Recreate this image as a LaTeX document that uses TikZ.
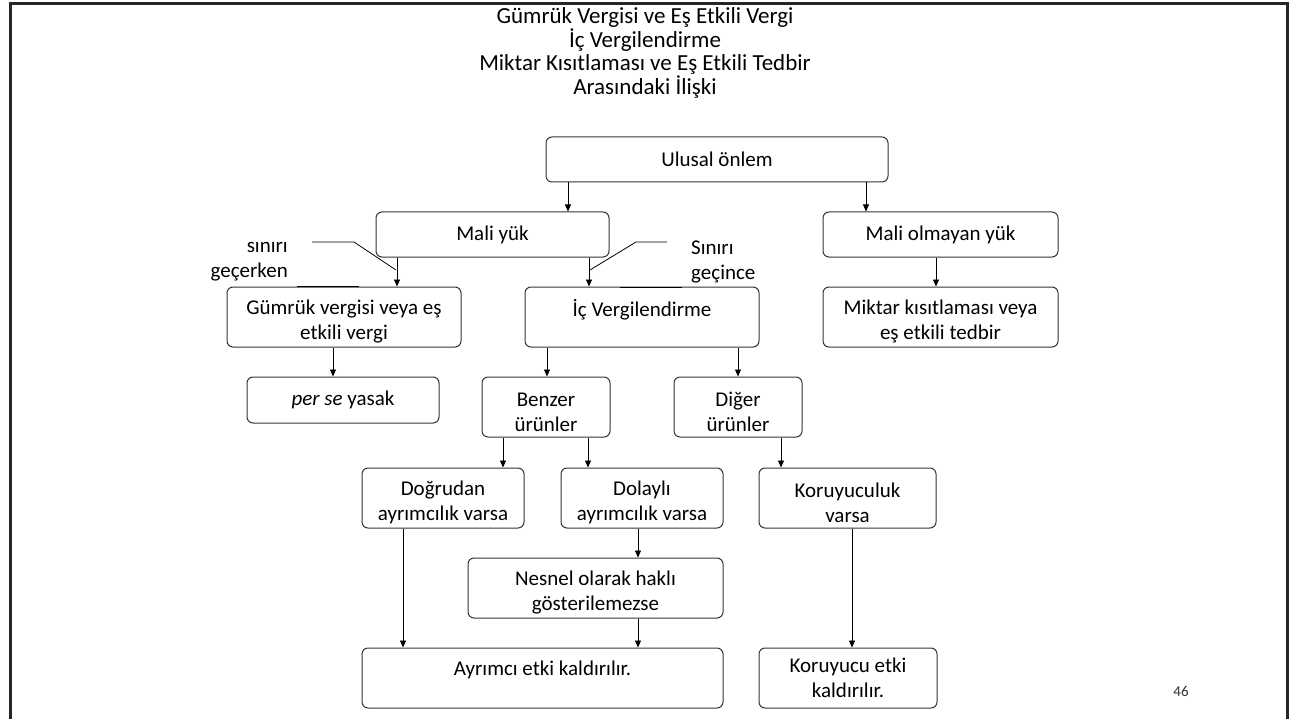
\documentclass[tikz,border=0pt]{standalone}
\usepackage{fontspec}
\setmainfont{Carlito}
\usetikzlibrary{arrows.meta}
\newcommand\liftA{\rule{0pt}{24pt}}
\newcommand\topA{\rule[-19pt]{0pt}{19pt}}
\tikzset{
  box/.style={draw=black!80, line width=1pt, rounded corners=6pt, align=center, inner sep=0pt,
    font=\fontsize{21}{25}\selectfont, text=black},
  arr/.style={draw=black, line width=0.8pt, -{Triangle[length=7pt,width=6pt]}},
  cline/.style={draw=black, line width=0.8pt},
  lbl/.style={inner sep=0pt, font=\fontsize{21}{25}\selectfont}
}
\begin{document}
\begin{tikzpicture}[x=1pt,y=-1pt]
\useasboundingbox (0,0) rectangle (1289,719);
% frame
\draw[line width=3pt, black!85] (10,722) -- (10,4) -- (1287,4) -- (1287,722);
% title
\node[inner sep=0pt, align=center, font=\fontsize{23}{23.5}\selectfont] (title) at (645,53)
  {Gümrük Vergisi ve Eş Etkili Vergi\\İç Vergilendirme\\Miktar Kısıtlaması ve Eş Etkili Tedbir\\Arasındaki İlişki};
% boxes
\node[box, minimum width=342pt, minimum height=45pt] (ulusal) at (717,159.5) {Ulusal önlem};
\node[box, minimum width=233pt, minimum height=45pt] (maliyuk) at (492.5,234.5) {Mali yük};
\node[box, minimum width=235pt, minimum height=45pt] (malio) at (940.5,234.5) {Mali olmayan yük};
\node[box, minimum width=235pt, minimum height=60pt] (miktar) at (940.5,317) {\liftA Miktar kısıtlaması veya\\eş etkili tedbir};
\node[box, minimum width=234pt, minimum height=60pt] (gumruk) at (344,317) {\liftA Gümrük vergisi veya eş\\etkili vergi};
\node[box, minimum width=234pt, minimum height=60pt] (ic) at (642,317) {İç Vergilendirme\topA};
\node[box, minimum width=192pt, minimum height=46pt] (perse) at (343,400) {\textit{per se} yasak};
\node[box, minimum width=128pt, minimum height=60pt] (benzer) at (546,407) {\liftA Benzer\\ürünler};
\node[box, minimum width=128pt, minimum height=60pt] (diger) at (738,407) {\liftA Diğer\\ürünler};
\node[box, minimum width=162pt, minimum height=60pt] (dogrudan) at (443,498) {\liftA Doğrudan\\ayrımcılık varsa};
\node[box, minimum width=162pt, minimum height=60pt] (dolayli) at (642,498) {\liftA Dolaylı\\ayrımcılık varsa};
\node[box, minimum width=177pt, minimum height=60pt] (koruyuculuk) at (847.5,498) {\liftA Koruyuculuk\\varsa};
\node[box, minimum width=255pt, minimum height=60pt] (nesnel) at (595.5,588) {\liftA Nesnel olarak haklı\\gösterilemezse};
\node[box, minimum width=361pt, minimum height=60pt] (ayrimci) at (542.5,678) {Ayrımcı etki kaldırılır.\topA};
\node[box, minimum width=178pt, minimum height=60pt] (koruyucu) at (848,678) {Koruyucu etki\\kaldırılır.};
% x positions of connectors
\coordinate (xa) at (568,0);
\coordinate (xb) at (866,0);
\coordinate (xc) at (397,0);
\coordinate (xd) at (589,0);
\coordinate (xe) at (936,0);
\coordinate (xf) at (333,0);
\coordinate (xg) at (547,0);
\coordinate (xh) at (738,0);
\coordinate (xi) at (503,0);
\coordinate (xj) at (588,0);
\coordinate (xk) at (781,0);
\coordinate (xl) at (638,0);
\coordinate (xm) at (403,0);
\coordinate (xn) at (852,0);
% connectors
\draw[arr] (ulusal.south -| xa) -- (maliyuk.north -| xa);
\draw[arr] (ulusal.south -| xb) -- (malio.north -| xb);
\draw[arr] (maliyuk.south -| xc) -- (gumruk.north -| xc);
\draw[arr] (maliyuk.south -| xd) -- (ic.north -| xd);
\draw[arr] (malio.south -| xe) -- (miktar.north -| xe);
\draw[arr] (gumruk.south -| xf) -- (perse.north -| xf);
\draw[arr] (ic.south -| xg) -- (benzer.north -| xg);
\draw[arr] (ic.south -| xh) -- (diger.north -| xh);
\draw[arr] (benzer.south -| xi) -- (dogrudan.north -| xi);
\draw[arr] (benzer.south -| xj) -- (dolayli.north -| xj);
\draw[arr] (diger.south -| xk) -- (koruyuculuk.north -| xk);
\draw[arr] (dolayli.south -| xl) -- (nesnel.north -| xl);
\draw[arr] (dogrudan.south -| xm) -- (ayrimci.north -| xm);
\draw[arr] (nesnel.south -| xl) -- (ayrimci.north -| xl);
\draw[arr] (koruyuculuk.south -| xn) -- (koruyucu.north -| xn);
% callouts
\node[lbl, align=right, anchor=east] (lcall) at (288,262) {sınırı\\geçerken};
\node[lbl, align=left, anchor=west] (rcall) at (691,262) {Sınırı\\geçince};
\coordinate (l1) at (312,242);
\coordinate (l2) at (354,242);
\coordinate (l3) at (396,270);
\coordinate (l4) at (297,286);
\coordinate (l5) at (359,286);
\coordinate (r1) at (667,242);
\coordinate (r2) at (636,242);
\coordinate (r3) at (590,270);
\coordinate (r4) at (620,287);
\coordinate (r5) at (682,287);
\draw[cline] (l1) -- (l2) -- (l3);
\draw[cline] (l4) -- (l5);
\draw[cline] (r1) -- (r2) -- (r3);
\draw[cline] (r4) -- (r5);
% page number
\node[inner sep=0pt, font=\fontsize{15}{17}\selectfont, text=black!80] (pnum) at (1181,691) {46};
\end{tikzpicture}
\end{document}
